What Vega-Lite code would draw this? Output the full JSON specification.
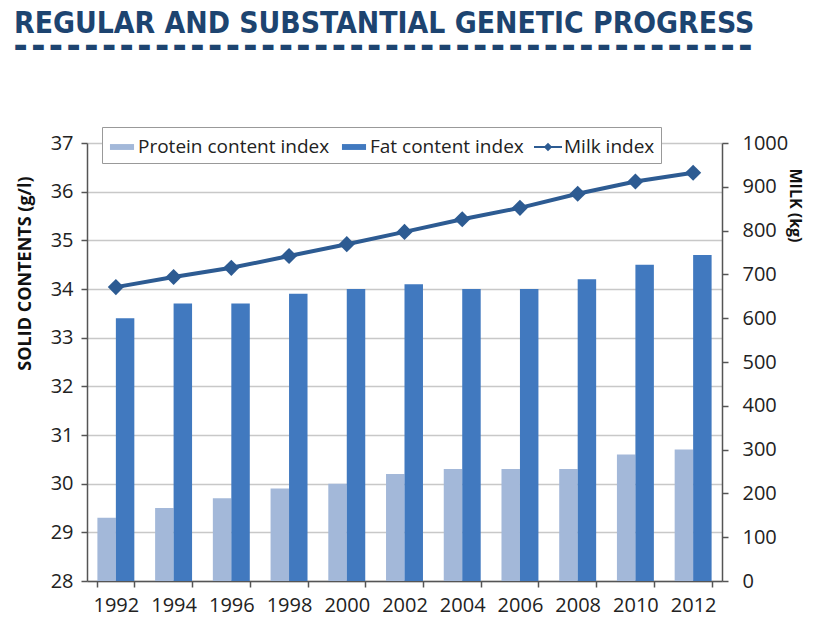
{
  "$schema": "https://vega.github.io/schema/vega-lite/v6.json",
  "width": 635,
  "height": 438,
  "autosize": {"type": "none"},
  "padding": {"left": 87, "top": 143, "right": 105, "bottom": 57},
  "background": "white",
  "title": {
    "text": "REGULAR AND SUBSTANTIAL GENETIC PROGRESS",
    "subtitle": "▬ ▬ ▬ ▬ ▬ ▬ ▬ ▬ ▬ ▬ ▬ ▬ ▬ ▬ ▬ ▬ ▬ ▬ ▬ ▬ ▬ ▬ ▬ ▬ ▬ ▬ ▬ ▬ ▬ ▬ ▬ ▬ ▬ ▬ ▬ ▬ ▬ ▬ ▬ ▬ ▬ ▬",
    "anchor": "start",
    "frame": "group",
    "dx": -73,
    "offset": 72,
    "font": "DejaVu Sans Condensed",
    "fontSize": 29.8,
    "fontWeight": "bold",
    "color": "#1d4470",
    "subtitleFont": "DejaVu Sans",
    "subtitleFontSize": 14,
    "subtitleColor": "#1d4470",
    "subtitlePadding": 2
  },
  "data": {
    "values": [
      {"year": "1992", "series": "Protein content index", "value": 29.3},
      {"year": "1994", "series": "Protein content index", "value": 29.5},
      {"year": "1996", "series": "Protein content index", "value": 29.7},
      {"year": "1998", "series": "Protein content index", "value": 29.9},
      {"year": "2000", "series": "Protein content index", "value": 30.0},
      {"year": "2002", "series": "Protein content index", "value": 30.2},
      {"year": "2004", "series": "Protein content index", "value": 30.3},
      {"year": "2006", "series": "Protein content index", "value": 30.3},
      {"year": "2008", "series": "Protein content index", "value": 30.3},
      {"year": "2010", "series": "Protein content index", "value": 30.6},
      {"year": "2012", "series": "Protein content index", "value": 30.7},
      {"year": "1992", "series": "Fat content index", "value": 33.4},
      {"year": "1994", "series": "Fat content index", "value": 33.7},
      {"year": "1996", "series": "Fat content index", "value": 33.7},
      {"year": "1998", "series": "Fat content index", "value": 33.9},
      {"year": "2000", "series": "Fat content index", "value": 34.0},
      {"year": "2002", "series": "Fat content index", "value": 34.1},
      {"year": "2004", "series": "Fat content index", "value": 34.0},
      {"year": "2006", "series": "Fat content index", "value": 34.0},
      {"year": "2008", "series": "Fat content index", "value": 34.2},
      {"year": "2010", "series": "Fat content index", "value": 34.5},
      {"year": "2012", "series": "Fat content index", "value": 34.7},
      {"year": "1992", "series": "Milk index", "value": 671},
      {"year": "1994", "series": "Milk index", "value": 694},
      {"year": "1996", "series": "Milk index", "value": 715},
      {"year": "1998", "series": "Milk index", "value": 742},
      {"year": "2000", "series": "Milk index", "value": 769},
      {"year": "2002", "series": "Milk index", "value": 797},
      {"year": "2004", "series": "Milk index", "value": 826},
      {"year": "2006", "series": "Milk index", "value": 852},
      {"year": "2008", "series": "Milk index", "value": 884},
      {"year": "2010", "series": "Milk index", "value": 912},
      {"year": "2012", "series": "Milk index", "value": 932}
    ]
  },
  "encoding": {
    "x": {
      "field": "year",
      "type": "nominal",
      "scale": {"paddingInner": 0.36, "paddingOuter": 0.18},
      "axis": {
        "title": null,
        "labelAngle": 0,
        "labelFont": "Open Sans",
        "labelFontSize": 20,
        "labelColor": "#222",
        "labelPadding": 8,
        "tickBand": "extent",
        "tickSize": 6,
        "tickColor": "#555",
        "tickWidth": 1.5,
        "domainColor": "#555",
        "domainWidth": 1.5,
        "grid": false
      }
    }
  },
  "layer": [
    {
      "transform": [{"filter": "datum.series !== 'Milk index'"}],
      "mark": {"type": "bar"},
      "encoding": {
        "xOffset": {
          "field": "series",
          "type": "nominal",
          "scale": {"domain": ["Protein content index", "Fat content index"], "paddingInner": 0, "paddingOuter": 0}
        },
        "y": {
          "field": "value",
          "type": "quantitative",
          "scale": {"domain": [28, 37], "zero": false, "nice": false},
          "axis": {
            "title": "SOLID CONTENTS (g/l)",
            "titleFont": "Open Sans",
            "titleFontSize": 18,
            "titleFontWeight": "bold",
            "titleColor": "#111",
            "titleX": -53,
            "titleY": 130,
            "tickCount": 9,
            "labelFont": "Open Sans",
            "labelFontSize": 20,
            "labelColor": "#222",
            "labelPadding": 8,
            "tickSize": 6,
            "tickColor": "#555",
            "tickWidth": 1.5,
            "domainColor": "#555",
            "domainWidth": 1.5,
            "grid": true,
            "gridColor": "#c8c8c8",
            "gridWidth": 1.5
          }
        },
        "y2": {"datum": 28},
        "color": {
          "field": "series",
          "type": "nominal",
          "scale": {
            "domain": ["Protein content index", "Fat content index", "Milk index"],
            "range": ["#a3b8d9", "#4179bf", "#2d5b92"]
          },
          "legend": {
            "title": null,
            "orient": "none",
            "legendX": 15,
            "legendY": -16,
            "direction": "horizontal",
            "labelFont": "Open Sans",
            "labelFontSize": 19,
            "labelColor": "#222",
            "labelLimit": 400,
            "labelOffset": 2,
            "columnPadding": 10,
            "padding": 6,
            "fillColor": "white",
            "strokeColor": "#999",
            "symbolSize": 784,
            "encode": {
              "symbols": {
                "update": {
                  "shape": [
                    {"test": "datum.value === 'Milk index'", "value": "M -1 -0.07 L -0.23 -0.07 L 0 -0.3 L 0.23 -0.07 L 1 -0.07 L 1 0.07 L 0.23 0.07 L 0 0.3 L -0.23 0.07 L -1 0.07 Z"},
                    {"value": "M -0.86 -0.21 L 0.86 -0.21 L 0.86 0.21 L -0.86 0.21 Z"}
                  ],
                  "strokeWidth": {"value": 0}
                }
              }
            }
          }
        }
      }
    },
    {
      "transform": [{"filter": "datum.series === 'Milk index'"}],
      "mark": {"type": "line", "color": "#2d5b92", "strokeWidth": 4, "point": {"shape": "diamond", "size": 260, "filled": true, "color": "#2d5b92"}},
      "encoding": {
        "y": {
          "field": "value",
          "type": "quantitative",
          "scale": {"domain": [0, 1000], "nice": false},
          "axis": {
            "orient": "right",
            "title": "MILK (kg)",
            "titleFont": "Open Sans",
            "titleFontSize": 16,
            "titleFontWeight": "bold",
            "titleColor": "#111",
            "titleAngle": 90,
            "titleX": 64,
            "titleY": 62,
            "tickCount": 10,
            "format": "d",
            "labelFont": "Open Sans",
            "labelFontSize": 20,
            "labelColor": "#222",
            "labelPadding": 14,
            "tickSize": 6,
            "tickColor": "#555",
            "tickWidth": 1.5,
            "domainColor": "#555",
            "domainWidth": 1.5,
            "grid": false
          }
        }
      }
    }
  ],
  "resolve": {"scale": {"y": "independent"}},
  "config": {"view": {"stroke": null}}
}
